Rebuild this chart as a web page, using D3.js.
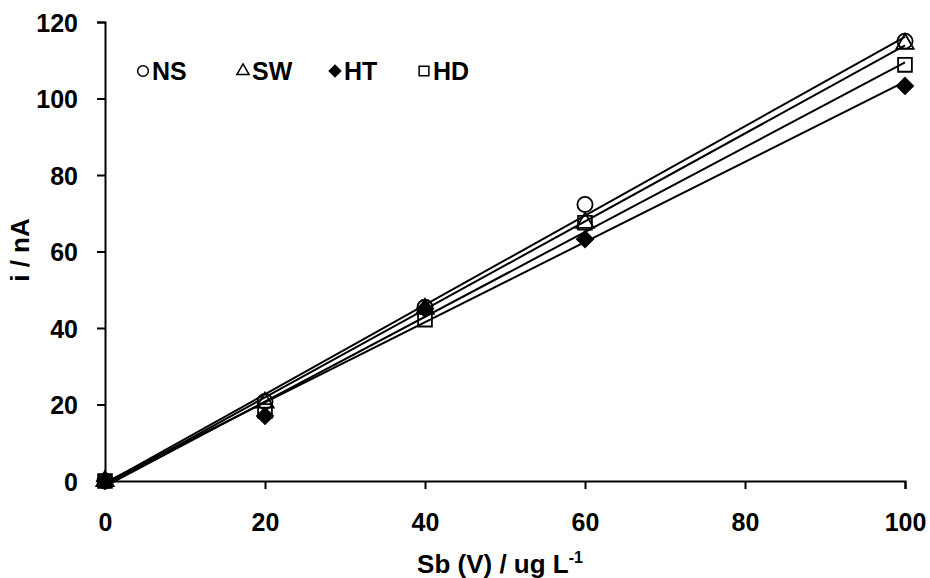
<!DOCTYPE html>
<html><head><meta charset="utf-8">
<script src="https://cdn.jsdelivr.net/npm/d3@7"></script>
<style>
body{margin:0;background:#fff;}
text{font-family:"Liberation Sans",Arial,sans-serif;font-weight:bold;fill:#000;}
</style></head>
<body><svg id="c" width="930" height="578"></svg>
<script>
const xValues = [0, 20, 40, 60, 100];
const seriesNames = ["NS", "SW", "HT", "HD"];
const nsValues = [0, 20.8, 45.4, 72.3, 115.0];
const swValues = [0, 20.5, 45.0, 67.5, 114.3];
const htValues = [0, 17.0, 45.0, 63.2, 103.3];
const hdValues = [0, 18.3, 42.2, 67.5, 108.8];
const xTicks = [0, 20, 40, 60, 80, 100];
const yTicks = [0, 20, 40, 60, 80, 100, 120];

const seriesValues = [nsValues, swValues, htValues, hdValues];
const diamond = { draw(ctx, size) { const r = Math.sqrt(size / 2); ctx.moveTo(0, -r); ctx.lineTo(r, 0); ctx.lineTo(0, r); ctx.lineTo(-r, 0); ctx.closePath(); } };
const symbols = [d3.symbolCircle, d3.symbolTriangle, diamond, d3.symbolSquare];
const filled = [false, false, true, false];
const sizes = [180, 130, 130, 190];

const svg = d3.select("#c");
const x = d3.scaleLinear().domain([0, 100]).range([105, 905]);
const y = d3.scaleLinear().domain([0, 120]).range([481, 22]);

const font = '"Liberation Sans",Arial,sans-serif';
const xAxis = svg.append("g").attr("transform", "translate(0,481)")
  .call(d3.axisBottom(x).tickValues(xTicks).tickSizeOuter(0).tickSize(8).tickPadding(24));
const yAxis = svg.append("g").attr("transform", "translate(105,0)")
  .call(d3.axisLeft(y).tickValues(yTicks).tickSizeOuter(0).tickSize(8).tickPadding(19));
[xAxis, yAxis].forEach(a => {
  a.selectAll("path,line").attr("stroke", "#000").attr("stroke-width", 2);
  a.selectAll("text").style("font-size", "25px").style("font-weight", "bold")
    .style("font-family", font).attr("fill", "#000");
});
yAxis.selectAll("text").attr("dy", "0.36em");

function fit(ys) {
  const mx = d3.mean(xValues), my = d3.mean(ys);
  let sxy = 0, sxx = 0;
  xValues.forEach((v, i) => { sxy += (v - mx) * (ys[i] - my); sxx += (v - mx) * (v - mx); });
  const m = sxy / sxx;
  return { m, b: my - m * mx };
}
seriesValues.forEach(ys => {
  const f = fit(ys);
  svg.append("line")
    .attr("x1", x(0)).attr("y1", y(f.b))
    .attr("x2", x(100)).attr("y2", y(f.m * 100 + f.b))
    .attr("stroke", "#000").attr("stroke-width", 2);
});

seriesValues.forEach((ys, s) => {
  svg.append("g").selectAll("path").data(ys).join("path")
    .attr("transform", (d, i) => `translate(${x(xValues[i])},${y(d)})`)
    .attr("d", d3.symbol().type(symbols[s]).size(sizes[s]))
    .attr("fill", filled[s] ? "#000" : "none")
    .attr("stroke", "#000").attr("stroke-width", 1.8);
});

const legX = [143, 243, 335, 424];
const leg = svg.append("g");
seriesNames.forEach((n, s) => {
  leg.append("path")
    .attr("transform", `translate(${legX[s]},71)`)
    .attr("d", d3.symbol().type(symbols[s]).size(sizes[s] * 0.5))
    .attr("fill", filled[s] ? "#000" : "none")
    .attr("stroke", "#000").attr("stroke-width", 1.5);
  leg.append("text").attr("x", legX[s] + 9).attr("y", 80)
    .style("font-size", "25px").text(n);
});

svg.append("text").attr("transform", "translate(29,250) rotate(-90)")
  .attr("text-anchor", "middle").style("font-size", "26px").text("i / nA");
const xt = svg.append("text").attr("x", 500).attr("y", 573)
  .attr("text-anchor", "middle").style("font-size", "26px");
xt.append("tspan").text("Sb (V) / ug L");
xt.append("tspan").attr("dy", -10).style("font-size", "16px").text("-1");
</script></body></html>
